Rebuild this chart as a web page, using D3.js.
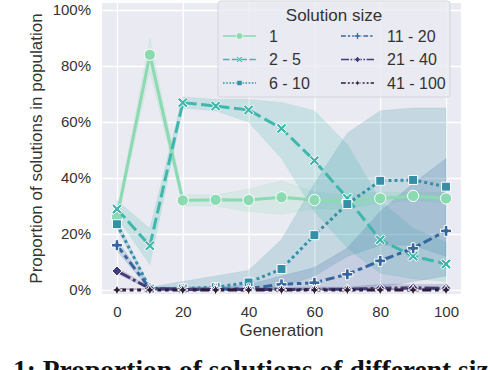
<!DOCTYPE html>
<html>
<head>
<meta charset="utf-8">
<script src="https://cdn.jsdelivr.net/npm/d3@7"></script>
<style>
  body { margin: 0; background: #fff; }
  svg { display: block; font-family: "Liberation Sans", Arial, sans-serif; }
</style>
</head>
<body>
<div id="svg"></div>
<script>
var generations = [0, 10, 20, 30, 40, 50, 60, 70, 80, 90, 100];
var sizeLabels = ["1", "2 - 5", "6 - 10", "11 - 20", "21 - 40", "41 - 100"];
var yTicks = [0, 20, 40, 60, 80, 100];
var xTicks = [0, 20, 40, 60, 80, 100];

// mean proportion (%) per generation
var size1     = [26, 84, 32, 32.2, 32.1, 33.1, 32.1, 31.5, 32.7, 33.6, 32.7];
var size2to5  = [28.9, 15.8, 66.9, 65.7, 64.3, 57.7, 46.2, 32.8, 17.9, 12.1, 9.3];
var size6to10 = [23.5, 0.5, 0.5, 1, 2.7, 7.5, 19.6, 30.7, 39, 39.3, 36.9];
var size11to20 = [16, 0.5, 0.3, 0.3, 0.5, 2, 2.6, 5.6, 10.4, 14.9, 21.1];
var size21to40 = [6.8, 0.5, 0.2, 0.2, 0.2, 0.2, 0.2, 0.3, 0.6, 0.8, 0.6];
var size41to100 = [0, 0, 0, 0, 0, 0, 0, 0, 0, 0, 0];

// confidence band, low and high
var size1Lo = [24, 78, 30, 30, 28, 27, 29, 29, 31, 32, 31];
var size1Hi = [28, 90, 34, 34, 36, 39, 35, 34, 35, 35, 35];
var size2to5Lo = [26, 9, 65, 64, 60, 47, 28, 15, 6, 4, 3];
var size2to5Hi = [32, 22, 69, 68, 68, 67, 64, 52, 32, 22, 17];
var size6to10Lo = [22, 0, 0, 0, 0, 1, 5, 12, 16, 16, 12];
var size6to10Hi = [25, 1, 3, 5, 7, 18, 38, 56, 64, 65, 65];
var size11to20Lo = [14, 0, 0, 0, 0, 0, 0, 0, 1, 3, 5];
var size11to20Hi = [18, 1, 1, 1, 2, 5, 8, 15, 28, 38, 47];
var size21to40Lo = [6, 0, 0, 0, 0, 0, 0, 0, 0, 0, 0];
var size21to40Hi = [8, 1, 1, 1, 1, 1, 1, 1, 2, 2, 2];
var size41to100Lo = [0, 0, 0, 0, 0, 0, 0, 0, 0, 0, 0];
var size41to100Hi = [0.5, 0.5, 0.5, 0.5, 0.5, 0.5, 0.5, 0.5, 0.5, 0.5, 0.5];

var colors = ["#8bdab2", "#40b7ad", "#348fa7", "#37659e", "#413d7b", "#2e1e3b"];
var lw = 3;
var dashes = [null, [4, 1.5], [1, 1], [3, 1.25, 1.5, 1.25], [5, 1, 1, 1], [3, 1.25, 1.25, 1.25, 1.25, 1.25]];

var means = [size1, size2to5, size6to10, size11to20, size21to40, size41to100];
var lows = [size1Lo, size2to5Lo, size6to10Lo, size11to20Lo, size21to40Lo, size41to100Lo];
var highs = [size1Hi, size2to5Hi, size6to10Hi, size11to20Hi, size21to40Hi, size41to100Hi];

var series = sizeLabels.map(function (name, i) {
  return {
    name: name,
    color: colors[i],
    dash: dashes[i],
    values: generations.map(function (g, j) {
      return { gen: g, p: means[i][j], lo: lows[i][j], hi: highs[i][j] };
    })
  };
});

var width = 488;
var height = 370;

var xScale = d3.scaleLinear()
               .domain([-4.55, 104.55])
               .range([102, 461]);

var yScale = d3.scaleLinear()
               .domain([-1.43, 102.5])
               .range([294, 3]);

// marker shapes (seaborn order: o, X, square, P, diamond, star)
var xShape = { draw: function (c, s) {
  var r = Math.sqrt(s) / 2, t = r * 0.38;
  var pts = [[0, -t], [r - t, -r], [r, -r + t], [t, 0], [r, r - t], [r - t, r],
             [0, t], [-r + t, r], [-r, r - t], [-t, 0], [-r, -r + t], [-r + t, -r]];
  c.moveTo(pts[0][0], pts[0][1]);
  pts.slice(1).forEach(function (p) { c.lineTo(p[0], p[1]); });
  c.closePath();
}};
var plusShape = { draw: function (c, s) {
  var r = Math.sqrt(s) / 2, t = r * 0.33;
  var pts = [[-t, -r], [t, -r], [t, -t], [r, -t], [r, t], [t, t], [t, r],
             [-t, r], [-t, t], [-r, t], [-r, -t], [-t, -t]];
  c.moveTo(pts[0][0], pts[0][1]);
  pts.slice(1).forEach(function (p) { c.lineTo(p[0], p[1]); });
  c.closePath();
}};
var diamondShape = { draw: function (c, s) {
  var r = Math.sqrt(s) / 2 * 1.2;
  c.moveTo(0, -r); c.lineTo(r, 0); c.lineTo(0, r); c.lineTo(-r, 0); c.closePath();
}};
var starShape = { draw: function (c, s) {
  var r = Math.sqrt(s) / 2 * 1.2, t = r * 0.3;
  c.moveTo(0, -r); c.lineTo(t, -t); c.lineTo(r, 0); c.lineTo(t, t);
  c.lineTo(0, r); c.lineTo(-t, t); c.lineTo(-r, 0); c.lineTo(-t, -t); c.closePath();
}};
var shapes = [d3.symbolCircle, xShape, d3.symbolSquare, plusShape, diamondShape, starShape];
var sizes = [100, 110, 80, 120, 70, 80];

var svg = d3.select("#svg").append("svg")
            .attr("width", width)
            .attr("height", height);

svg.append("rect")
    .attr("x", xScale.range()[0])
    .attr("y", yScale.range()[1])
    .attr("width", xScale.range()[1] - xScale.range()[0])
    .attr("height", yScale.range()[0] - yScale.range()[1])
    .attr("fill", "#eaeaf2");

var xAxis = d3.axisBottom(xScale)
              .tickValues(xTicks)
              .tickSize(-(yScale.range()[0] - yScale.range()[1]))
              .tickPadding(12);

var yAxis = d3.axisLeft(yScale)
              .tickValues(yTicks)
              .tickFormat(function (d) { return d + "%"; })
              .tickSize(-(xScale.range()[1] - xScale.range()[0]))
              .tickPadding(11);

var gx = svg.append("g")
    .attr("transform", "translate(0," + yScale.range()[0] + ")")
    .call(xAxis);

var gy = svg.append("g")
    .attr("transform", "translate(" + xScale.range()[0] + ",0)")
    .call(yAxis);

[gx, gy].forEach(function (g) {
  g.select(".domain").remove();
  g.selectAll(".tick line").attr("stroke", "#fff").attr("stroke-width", 1.3);
  g.selectAll(".tick text").attr("fill", "#333").style("font-size", "15px");
});

// bands
series.forEach(function (s) {
  svg.append("path")
    .datum(s.values)
    .attr("fill", s.color)
    .attr("fill-opacity", 0.2)
    .attr("stroke", s.color)
    .attr("stroke-opacity", 0.2)
    .attr("stroke-width", 0.6)
    .attr("d", d3.area()
      .x(d => xScale(d.gen))
      .y0(d => yScale(d.lo))
      .y1(d => yScale(d.hi)));
});

// lines + markers
series.forEach(function (s, i) {
  svg.append("path")
    .datum(s.values)
    .attr("fill", "none")
    .attr("stroke", s.color)
    .attr("stroke-width", lw)
    .attr("stroke-dasharray", s.dash ? s.dash.map(v => v * lw).join(",") : null)
    .attr("d", d3.line()
      .x(d => xScale(d.gen))
      .y(d => yScale(d.p)));

  svg.selectAll(".m" + i)
    .data(s.values)
    .enter().append("path")
    .attr("class", "m" + i)
    .attr("transform", d => "translate(" + xScale(d.gen) + "," + yScale(d.p) + ")")
    .attr("d", d3.symbol().type(shapes[i]).size(sizes[i]))
    .attr("fill", s.color)
    .attr("stroke", "#fff")
    .attr("stroke-width", 1);
});

// axis titles
svg.append("text")
    .attr("x", (xScale.range()[0] + xScale.range()[1]) / 2)
    .attr("y", 336)
    .style("text-anchor", "middle")
    .style("font-size", "17px")
    .attr("fill", "#333")
    .text("Generation");

svg.append("text")
    .attr("transform", "rotate(-90)")
    .attr("x", -(yScale.range()[0] + yScale.range()[1]) / 2)
    .attr("y", 42)
    .style("text-anchor", "middle")
    .style("font-size", "17px")
    .attr("fill", "#333")
    .text("Proportion of solutions in population");

// legend
var legend = svg.append("g").attr("transform", "translate(218,1)");

legend.append("rect")
    .attr("width", 232)
    .attr("height", 96)
    .attr("rx", 3)
    .attr("fill", "#eaeaf2")
    .attr("fill-opacity", 0.8)
    .attr("stroke", "#d4d4da");

legend.append("text")
    .attr("x", 116)
    .attr("y", 20)
    .style("text-anchor", "middle")
    .style("font-size", "17px")
    .attr("fill", "#333")
    .text("Solution size");

series.forEach(function (s, i) {
  var col = Math.floor(i / 3), row = i % 3;
  var g = legend.append("g")
      .attr("transform", "translate(" + (5 + col * 118) + "," + (35 + row * 23.5) + ")");
  g.append("line")
    .attr("x1", 0).attr("x2", 33)
    .attr("stroke", s.color)
    .attr("stroke-width", 1.6)
    .attr("stroke-dasharray", s.dash ? s.dash.map(v => v * 1.6).join(",") : null);
  g.append("path")
    .attr("transform", "translate(16.5,0)")
    .attr("d", d3.symbol().type(shapes[i]).size(sizes[i] * 0.35))
    .attr("fill", s.color)
    .attr("stroke", "#fff")
    .attr("stroke-width", 0.6);
  g.append("text")
    .attr("x", 46)
    .attr("dy", "0.35em")
    .style("font-size", "16px")
    .attr("fill", "#333")
    .text(s.name);
});

// caption (cut off by the frame, as in the source)
svg.append("text")
    .attr("x", 13)
    .attr("y", 379)
    .style("font-family", "'Liberation Serif', 'DejaVu Serif', serif")
    .style("font-weight", "bold")
    .style("font-size", "27.5px")
    .attr("fill", "#111")
    .text("1: Proportion of solutions of different sizes");
</script>
</body>
</html>
